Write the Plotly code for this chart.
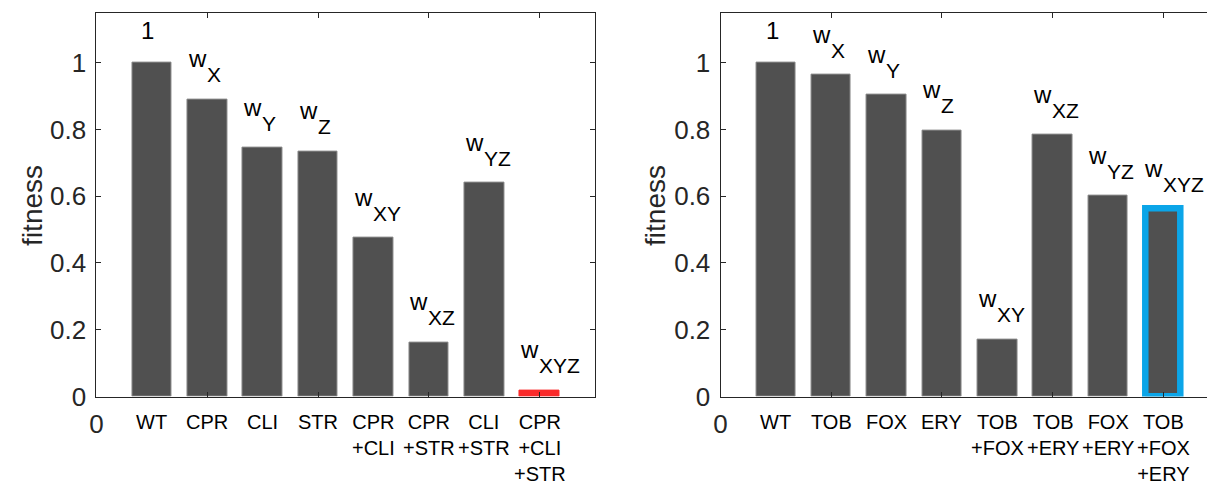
import plotly.graph_objects as go

# ---- data ----
left_cats = ["WT", "CPR", "CLI", "STR", "CPR<br>+CLI", "CPR<br>+STR", "CLI<br>+STR", "CPR<br>+CLI<br>+STR"]
left_vals = [1.0, 0.890, 0.745, 0.734, 0.476, 0.162, 0.641, 0.018]
right_cats = ["WT", "TOB", "FOX", "ERY", "TOB<br>+FOX", "TOB<br>+ERY", "FOX<br>+ERY", "TOB<br>+FOX<br>+ERY"]
right_vals = [1.0, 0.964, 0.904, 0.797, 0.1715, 0.784, 0.601, 0.562]
bar_subscripts = ["", "X", "Y", "Z", "XY", "XZ", "YZ", "XYZ"]
y_ticks = [0, 0.2, 0.4, 0.6, 0.8, 1.0]
y_tick_text = ["0", "0.2", "0.4", "0.6", "0.8", "1"]
x_ticks = [0, 2, 4, 6, 8]
x_tick_text = ["0", "", "", "", ""]

GRAY = "#505050"
RED = "#fa2a2a"
BLUE = "#0ba5e8"
AX = "#262626"
FONT = "Liberation Sans, Arial, sans-serif"

xpos = list(range(1, 9))

fig = go.Figure()

# left panel
left_colors = [GRAY] * 7 + [RED]
left_lines = ["#8a8a8a"] * 7 + [RED]
fig.add_trace(go.Bar(x=xpos, y=left_vals, width=0.715,
                     marker=dict(color=left_colors, line=dict(color=left_lines, width=1)),
                     xaxis="x", yaxis="y", showlegend=False, hoverinfo="skip"))

# right panel: first 7 normal
fig.add_trace(go.Bar(x=xpos[:7], y=right_vals[:7], width=0.715,
                     marker=dict(color=GRAY, line=dict(color="#8a8a8a", width=1)),
                     xaxis="x2", yaxis="y2", showlegend=False, hoverinfo="skip"))
# highlighted last bar
fig.add_trace(go.Bar(x=xpos[7:], y=right_vals[7:], width=0.63,
                     marker=dict(color=GRAY, line=dict(color=BLUE, width=6.5)),
                     xaxis="x2", yaxis="y2", showlegend=False, hoverinfo="skip"))

axis_common = dict(showline=True, linecolor=AX, linewidth=1, ticks="inside", ticklen=5,
                   tickcolor=AX, showgrid=False, zeroline=False,
                   tickfont=dict(family=FONT, size=26, color=AX))

y_bottom = 1 - 409 / 491
y_top = 1 - 13 / 491

fig.update_layout(
    width=1207, height=491,
    margin=dict(l=0, r=0, t=0, b=0),
    paper_bgcolor="white", plot_bgcolor="white",
    bargap=0,
    xaxis=dict(domain=[90 / 1207, 591.5 / 1207], range=[0, 9], tickvals=x_ticks,
               ticktext=x_tick_text, mirror="ticks", anchor="y", ticklabelstandoff=4, **axis_common),
    yaxis=dict(domain=[y_bottom, y_top], range=[0, 1.15], tickvals=y_ticks, ticktext=y_tick_text,
               mirror="ticks", anchor="x", ticklabelstandoff=4, **axis_common),
    xaxis2=dict(domain=[717.7 / 1207, 1.0], range=[0, (1207 - 717.7) / 55.67], tickvals=x_ticks,
                ticktext=x_tick_text, mirror="ticks", anchor="y2", ticklabelstandoff=4, **axis_common),
    yaxis2=dict(domain=[y_bottom, y_top], range=[0, 1.15], tickvals=y_ticks, ticktext=y_tick_text,
                mirror=False, anchor="x2", ticklabelstandoff=4, **axis_common),
)

annotations = []
# y-axis titles
for xc in (25, 651.7):
    annotations.append(dict(x=xc / 1207, y=1 - 211.5 / 491, xref="paper", yref="paper",
                            text="fitness", textangle=-90, showarrow=False,
                            xanchor="center", yanchor="middle",
                            font=dict(family=FONT, size=28, color=AX)))

for (xr, yr, cats, vals) in [("x", "y", left_cats, left_vals), ("x2", "y2", right_cats, right_vals)]:
    for i, (c, v, sub) in enumerate(zip(cats, vals, bar_subscripts)):
        xi = xpos[i]
        if sub == "":
            annotations.append(dict(x=xi - 0.07, y=v, xref=xr, yref=yr, text="1", showarrow=False,
                                    xanchor="center", yanchor="bottom", yshift=18, borderpad=0,
                                    font=dict(family=FONT, size=24, color="black")))
        else:
            annotations.append(dict(x=xi - 0.37, y=v, xref=xr, yref=yr, text="w", showarrow=False,
                                    xanchor="left", yanchor="bottom", yshift=26, borderpad=0,
                                    font=dict(family=FONT, size=24, color="black")))
            annotations.append(dict(x=xi - 0.37, y=v, xref=xr, yref=yr, text=sub, showarrow=False,
                                    xanchor="left", yanchor="bottom", xshift=19, yshift=12, borderpad=0,
                                    font=dict(family=FONT, size=21, color="black")))
        annotations.append(dict(x=xi, y=0, xref=xr, yref=yr, text=c, showarrow=False,
                                xanchor="center", yanchor="top", yshift=-12, align="center",
                                font=dict(family=FONT, size=20, color="black")))
fig.update_layout(annotations=annotations)

fig.write_html("out.html")
